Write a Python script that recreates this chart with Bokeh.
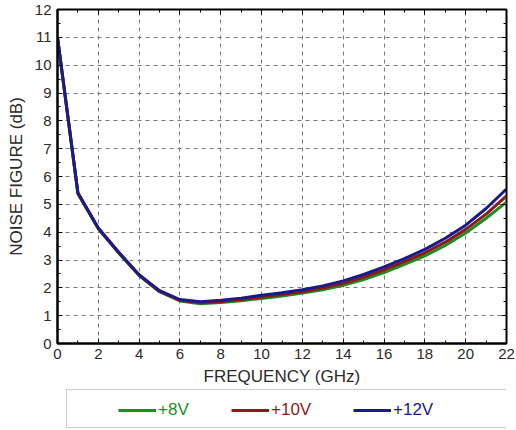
from bokeh.plotting import figure
from bokeh.layouts import column
from bokeh.models import (Legend, LegendItem, LinearAxis, Range1d, SingleIntervalTicker,
                          CustomJSTickFormatter)
from bokeh.core.properties import value
from bokeh.embed import file_html
from bokeh.resources import INLINE

freq = [0, 1, 2, 3, 4, 5, 6, 7, 8, 9, 10, 11, 12, 13, 14, 15, 16, 17, 18, 19, 20, 21, 22]
nf_8v = [10.98, 5.38, 4.12, 3.25, 2.44, 1.86, 1.53, 1.43, 1.47, 1.54, 1.62, 1.71, 1.81,
         1.93, 2.09, 2.30, 2.55, 2.84, 3.15, 3.52, 3.97, 4.50, 5.08]
nf_10v = [11.0, 5.40, 4.13, 3.26, 2.45, 1.87, 1.55, 1.46, 1.50, 1.58, 1.67, 1.76, 1.86,
          1.99, 2.16, 2.38, 2.65, 2.94, 3.26, 3.64, 4.10, 4.65, 5.30]
nf_12v = [11.0, 5.42, 4.15, 3.28, 2.47, 1.90, 1.58, 1.50, 1.55, 1.63, 1.73, 1.82, 1.93,
          2.07, 2.25, 2.48, 2.75, 3.05, 3.38, 3.78, 4.25, 4.85, 5.55]
series = [nf_8v, nf_10v, nf_12v]
series_labels = ["+8V", "+10V", "+12V"]
series_colors = ["#1e8c1e", "#8c1a1a", "#1a1a8c"]

FONT = "Liberation Sans"
TXT = "#2a2a2a"

p = figure(width=516, height=388, output_backend="svg", toolbar_location=None,
           x_range=Range1d(0, 22), y_range=Range1d(0, 12),
           min_border_left=57, min_border_right=10, min_border_top=9, min_border_bottom=44)
p.background_fill_color = "white"
p.border_fill_color = "white"
p.outline_line_color = "black"
p.outline_line_width = 2

xt = SingleIntervalTicker(interval=2, num_minor_ticks=2)
yt = SingleIntervalTicker(interval=1, num_minor_ticks=2)
p.xaxis.ticker = xt
p.yaxis.ticker = yt
p.xgrid.ticker = xt
p.ygrid.ticker = yt

for ax in (p.xaxis[0], p.yaxis[0]):
    ax.axis_line_color = "black"
    ax.axis_line_width = 2
    ax.major_tick_in = 5
    ax.major_tick_out = 0
    ax.minor_tick_in = 3
    ax.minor_tick_out = 0
    ax.major_tick_line_color = "black"
    ax.minor_tick_line_color = "black"
    ax.major_label_text_font = FONT
    ax.major_label_text_font_size = "15px"
    ax.major_label_text_color = TXT
    ax.axis_label_text_font = FONT
    ax.axis_label_text_font_size = "17px"
    ax.axis_label_text_font_style = "normal"
    ax.axis_label_text_color = TXT

p.xaxis.axis_label = "FREQUENCY (GHz)"
p.yaxis.axis_label = "NOISE FIGURE (dB)"
p.xaxis.major_label_standoff = 5
p.xaxis.axis_label_standoff = 5
p.yaxis.major_label_standoff = 6
p.yaxis.axis_label_standoff = 6

for loc, tk in (("above", xt), ("right", yt)):
    ax = LinearAxis(ticker=tk, formatter=CustomJSTickFormatter(code="return ''"),
                    axis_line_color=None,
                    major_tick_in=5, major_tick_out=0, minor_tick_in=3, minor_tick_out=0,
                    major_tick_line_color="black", minor_tick_line_color="black",
                    major_label_standoff=0)
    p.add_layout(ax, loc)

for g in (p.xgrid[0], p.ygrid[0]):
    g.grid_line_color = "#7a7a7a"
    g.grid_line_dash = "4 4"
    g.grid_line_width = 1

for ys, c in zip(series, series_colors):
    p.line(freq, ys, line_color=c, line_width=3)

# legend strip below the chart (its frame is aligned with the chart frame, x=57)
q = figure(width=516, height=42, output_backend="svg", toolbar_location=None,
           x_range=Range1d(-10, -9), y_range=Range1d(0, 1),
           min_border_left=57, min_border_right=10, min_border_top=0, min_border_bottom=0)
q.axis.visible = False
q.grid.visible = False
q.outline_line_color = None
q.background_fill_color = "white"
q.border_fill_color = "white"

dummy = q.line(freq, nf_8v, line_alpha=0)
box = Legend(items=[LegendItem(label=value(" "), renderers=[dummy])],
             location=(9, 2), orientation="horizontal",
             padding=0, spacing=0, margin=0,
             glyph_width=432, glyph_height=37, label_height=20, label_standoff=0,
             label_text_font_size="4px",
             border_line_color="#9a9a9a", border_line_width=1,
             background_fill_color="white", background_fill_alpha=1)
q.add_layout(box, "center")

xoffs = [61, 174, 296]
for ys, lab, c, xo in zip(series, series_labels, series_colors, xoffs):
    r = q.line(freq, ys, line_color=c, line_width=3)
    lg = Legend(items=[LegendItem(label=value(lab), renderers=[r])],
                location=(xo, 10), padding=0, margin=0, spacing=0,
                glyph_width=38, glyph_height=20, label_height=20, label_standoff=2,
                label_text_font=FONT, label_text_font_size="17px", label_text_color=c,
                border_line_color=None, background_fill_alpha=0)
    q.add_layout(lg, "center")

layout = column(p, q, spacing=0)
open("out.html", "w").write(file_html(layout, INLINE))
